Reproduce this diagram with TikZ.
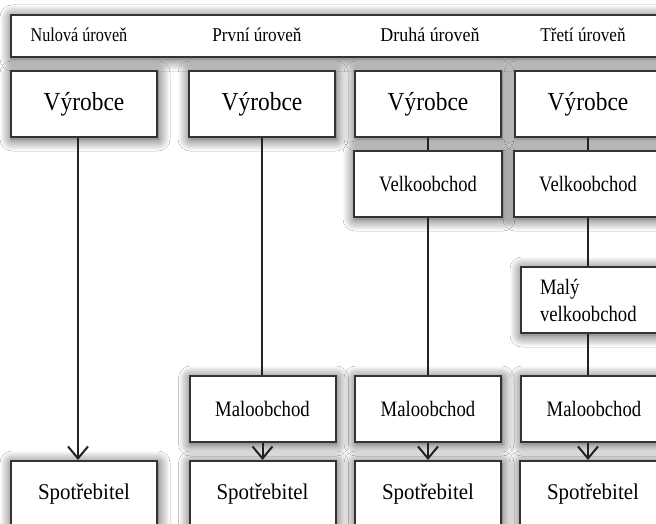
\documentclass[tikz,border=0pt]{standalone}
\usepackage{fontspec}
\usepackage{graphicx}
\setmainfont{Liberation Serif}
\usetikzlibrary{arrows.meta,shadows.blur}
\definecolor{edge}{HTML}{333333}
\definecolor{wire}{HTML}{222222}
\newcommand{\narrow}[2]{\scalebox{#1}[1]{#2}}
\tikzset{
  shadowed/.style={blur shadow={shadow xshift=1pt, shadow yshift=-2pt, shadow blur radius=12pt, shadow blur steps=12, shadow opacity=75}},
  box/.style={draw=edge, line width=2pt, fill=white, minimum width=146pt, minimum height=66pt, inner sep=0pt, shadowed},
  headtext/.style={anchor=base, font=\fontsize{19.5}{22}\selectfont, inner sep=0pt},
  big/.style={font=\fontsize{26}{30}\selectfont},
  mid/.style={font=\fontsize{22}{26}\selectfont},
  spot/.style={font=\fontsize{22.5}{26}\selectfont},
  wireline/.style={draw=wire, line width=2pt},
  arrowline/.style={wireline, -{Straight Barb[length=12pt,width=20pt,line width=2pt]}}
}
\begin{document}
\begin{tikzpicture}[x=1pt,y=-1pt]
\useasboundingbox (0,0) rectangle (656,524);
\clip (0,0) rectangle (656,524);
\fill[white] (0,0) rectangle (656,524);
% header band
\node[draw=edge, line width=2pt, fill=white, shadowed, minimum width=680pt, minimum height=42pt, inner sep=0pt, anchor=north west] (head) at (10,14) {};
\node[headtext] (h1) at (79,42) {\narrow{0.83}{Nulová úroveň}};
\node[headtext] (h2) at (257,42) {\narrow{0.88}{První úroveň}};
\node[headtext] (h3) at (430,42) {\narrow{0.92}{Druhá úroveň}};
\node[headtext] (h4) at (583,42) {\narrow{0.88}{Třetí úroveň}};
% producers
\node[box, big] (v1) at (84,104) {\narrow{0.9}{Výrobce}};
\node[box, big] (v2) at (262,104) {\narrow{0.9}{Výrobce}};
\node[box, big] (v3) at (428,104) {\narrow{0.9}{Výrobce}};
\node[box, big] (v4) at (588,104) {\narrow{0.9}{Výrobce}};
% wholesalers
\node[box, mid, minimum width=148pt] (w3) at (428,184) {\narrow{0.84}{Velkoobchod}};
\node[box, mid, minimum width=148pt] (w4) at (588,184) {\narrow{0.84}{Velkoobchod}};
% small wholesaler
\node[box, mid, text width=108pt, align=left, font=\fontsize{22}{27}\selectfont] (mw4) at (594,300) {\narrow{0.85}{Malý}\\\narrow{0.85}{velkoobchod}};
% retailers
\node[box, mid] (r2) at (262.5,409) {\narrow{0.85}{Maloobchod}};
\node[box, mid] (r3) at (428,409) {\narrow{0.85}{Maloobchod}};
\node[box, mid] (r4) at (594,409) {\narrow{0.85}{Maloobchod}};
% consumers
\node[box, spot] (c1) at (84,494) {\narrow{0.93}{Spotřebitel}};
\node[box, spot] (c2) at (262.5,494) {\narrow{0.93}{Spotřebitel}};
\node[box, spot] (c3) at (428,494) {\narrow{0.93}{Spotřebitel}};
\node[box, spot] (c4) at (593,494) {\narrow{0.93}{Spotřebitel}};
% column 1
\draw[arrowline] ([xshift=-6pt]v1.south) -- ([xshift=-6pt]c1.north);
% column 2
\draw[wireline] (v2.south) -- (v2.south |- r2.north);
\draw[arrowline] (r2.south) -- (c2.north);
% column 3
\draw[wireline] (v3.south) -- (w3.north);
\draw[wireline] (w3.south) -- (r3.north);
\draw[arrowline] (r3.south) -- (c3.north);
% column 4
\draw[wireline] (v4.south) -- (w4.north);
\draw[wireline] (w4.south) -- (w4.south |- mw4.north);
\draw[wireline] (w4.south |- mw4.south) -- (w4.south |- r4.north);
\draw[arrowline] (w4.south |- r4.south) -- (w4.south |- c4.north);
\end{tikzpicture}
\end{document}
